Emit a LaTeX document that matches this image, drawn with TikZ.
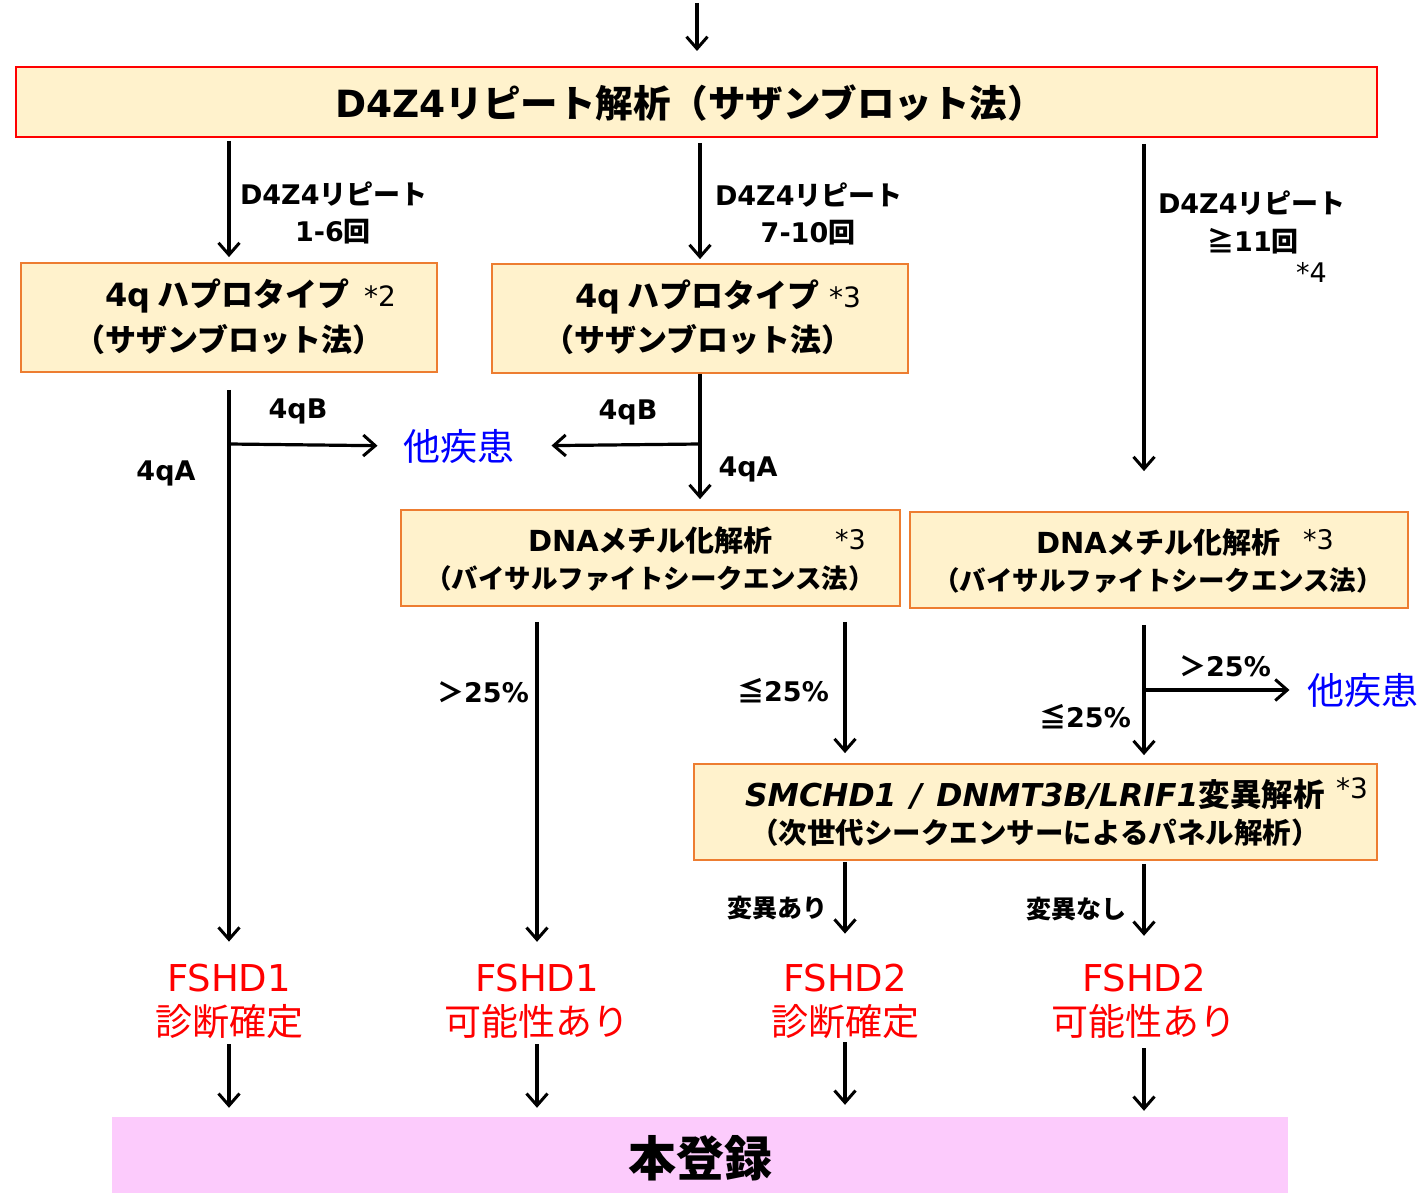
\documentclass[tikz,border=0pt]{standalone}
\usepackage{fontspec}
\setmainfont{Noto Sans CJK JP}
\newfontfamily\latn{DejaVu Sans}
\usetikzlibrary{arrows.meta}
\definecolor{boxfill}{HTML}{FFF2CC}
\definecolor{boxline}{HTML}{ED7D31}
\definecolor{mainline}{HTML}{FF0000}
\definecolor{pinkfill}{HTML}{FCCBFC}
\definecolor{bluetxt}{HTML}{0000FF}
\definecolor{redtxt}{HTML}{FF0000}
\newcommand\fsz[1]{\fontsize{#1}{#1}\selectfont}
\newcommand\fszb[2]{\fontsize{#1}{#2}\selectfont}
\begin{document}
\begin{tikzpicture}[x=1pt,y=-1pt,
  arr/.style={line width=3.2pt,-{Straight Barb[length=12pt,width=21pt,line width=3pt]}},
  box/.style={draw=boxline,line width=1.8pt,fill=boxfill,inner sep=0pt},
  txt/.style={inner sep=0pt,outer sep=0pt},
  bt/.style={txt,font=\bfseries},
  st/.style={txt,font=\latn\fsz{28},anchor=west},
  redl/.style={txt,text=redtxt,align=center,font=\fszb{37}{44}},
  other/.style={txt,text=bluetxt,font=\fsz{37}},
]
\useasboundingbox (0,0) rectangle (1424,1193);

% boxes
\node[box,draw=mainline,line width=2pt,minimum width=1361pt,minimum height=70pt] (main) at (696.5,102) {};
\node[bt,font=\bfseries\fsz{37.5}] (maint) at (690,103) {{\latn D4Z4}リピート解析（サザンブロット法）};

\node[box,minimum width=416pt,minimum height=109pt] (q1) at (229,317.5) {};
\node[bt,font=\bfseries\fsz{32},anchor=west] (q1a) at (105,296) {{\latn 4q} ハプロタイプ};
\node[st] (q1s) at (364,296) {*2};
\node[bt,font=\bfseries\fsz{31}] (q1b) at (229,340) {（サザンブロット法）};

\node[box,minimum width=416pt,minimum height=109pt] (q2) at (700,318.5) {};
\node[bt,font=\bfseries\fsz{32},anchor=west] (q2a) at (575,297) {{\latn 4q} ハプロタイプ};
\node[st] (q2s) at (829,297) {*3};
\node[bt,font=\bfseries\fsz{31}] (q2b) at (698,340) {（サザンブロット法）};

\node[box,minimum width=499pt,minimum height=96pt] (dm) at (650.5,558) {};
\node[bt,font=\bfseries\fsz{29}] (dma) at (528,540) [anchor=west] {{\latn DNA}メチル化解析};
\node[st,font=\latn\fsz{27}] (dms) at (835,540) {*3};
\node[bt,font=\bfseries\fsz{26.5}] (dmb) at (650,578) {（バイサルファイトシークエンス法）};

\node[box,minimum width=498pt,minimum height=96pt] (dr) at (1159,560) {};
\node[bt,font=\bfseries\fsz{29},anchor=west] (dra) at (1036,542) {{\latn DNA}メチル化解析};
\node[st,font=\latn\fsz{27}] (drs) at (1303,540) {*3};
\node[bt,font=\bfseries\fsz{26.5}] (drb) at (1158,580) {（バイサルファイトシークエンス法）};

\node[box,minimum width=683pt,minimum height=96pt] (smc) at (1035.5,812) {};
\node[bt,font=\bfseries\fsz{31.5},anchor=west] (smca) at (745,795) {{\latn\itshape SMCHD1\hspace{0.45em}/\hspace{0.45em}DNMT3B/LRIF1}変異解析};
\node[st] (smcs) at (1336,788) {*3};
\node[bt,font=\bfseries\fsz{28.5}] (smcb) at (1035,833) {（次世代シークエンサーによるパネル解析）};

\node[fill=pinkfill,inner sep=0pt,minimum width=1176pt,minimum height=76pt] (reg) at (700,1155) {};
\node[bt,font=\bfseries\fsz{48}] (regt) at (700,1158) {本登録};

% result labels
\node[redl] (f1) at (229,1001) {{\latn FSHD1}\\診断確定};
\node[redl] (f2) at (537,1001) {{\latn FSHD1}\\可能性あり};
\node[redl] (f3) at (845,1001) {{\latn FSHD2}\\診断確定};
\node[redl] (f4) at (1144,1001) {{\latn FSHD2}\\可能性あり};

\node[other] (o1) at (459,446) {他疾患};
\node[other] (o2) at (1363,690) {他疾患};

% edge labels
\node[bt,font=\bfseries\fsz{27},anchor=west] (l1a) at (240,194) {{\latn D4Z4}リピート};
\node[bt,font=\bfseries\fsz{27}] (l1b) at (333,232) {{\latn 1-6}回};
\node[bt,font=\bfseries\fsz{27},anchor=west] (l2a) at (715,195) {{\latn D4Z4}リピート};
\node[bt,font=\bfseries\fsz{27}] (l2b) at (808,233) {{\latn 7-10}回};
\node[bt,font=\bfseries\fsz{27},anchor=west] (l3a) at (1158,203) {{\latn D4Z4}リピート};
\node[bt,font=\bfseries\fsz{27}] (l3b) at (1253,241) {≧{\latn 11}回};
\node[st,font=\latn\fsz{27}] (l3s) at (1296,272) {*4};

\node[bt,font=\bfseries\latn\fsz{27}] (b1l) at (298,411) {4qB};
\node[bt,font=\bfseries\latn\fsz{27}] (a1l) at (166,473) {4qA};
\node[bt,font=\bfseries\latn\fsz{27}] (b2l) at (628,412) {4qB};
\node[bt,font=\bfseries\latn\fsz{27}] (a2l) at (748,469) {4qA};

\node[bt,font=\bfseries\fsz{27}] (p1) at (483,692) {＞{\latn 25\%}};
\node[bt,font=\bfseries\fsz{27}] (p2) at (783,691) {≦{\latn 25\%}};
\node[bt,font=\bfseries\fsz{27}] (p3) at (1225,666) {＞{\latn 25\%}};
\node[bt,font=\bfseries\fsz{27}] (p4) at (1085,717) {≦{\latn 25\%}};

\node[bt,font=\bfseries\fsz{25}] (m1) at (777,908) {変異あり};
\node[bt,font=\bfseries\fsz{25}] (m2) at (1076,909) {変異なし};

% connectors
\coordinate (top) at (697,3);
\draw[arr,shorten >=15pt] (top) -- (main.north -| top);

\draw[arr,shorten <=3pt,shorten >=5pt] (main.south -| q1.north) -- (q1.north);
\draw[arr,shorten <=5pt,shorten >=4pt] (main.south -| q2.north) -- (q2.north);
\draw[arr,shorten <=6pt,shorten >=40pt] (main.south -| f4) -- (dr.north -| f4);

\coordinate (b1) at (229,444);
\coordinate (b2) at (700,444);
\draw[arr,shorten <=17pt,shorten >=22pt] (q1.south) -- (f1.north);
\draw[arr,shorten >=26pt] (b1) -- (o1.west);
\draw[arr,shorten >=10pt] (q2.south) -- (dm.north -| q2.south);
\draw[arr,shorten >=37pt] (b2) -- (o1.east);

\draw[arr,shorten <=15pt,shorten >=22pt] (dm.south -| f2) -- (f2.north);
\draw[arr,shorten <=15pt,shorten >=10pt] (dm.south -| f3) -- (smc.north -| f3);
\draw[arr,shorten <=16pt,shorten >=8pt] (dr.south -| f4) -- (smc.north -| f4);
\coordinate (b3) at (1144,690);
\draw[arr,shorten >=18pt] (b3) -- (o2.west);

\draw[arr,shorten <=1pt,shorten >=30pt] (smc.south -| f3) -- (f3.north);
\draw[arr,shorten <=3pt,shorten >=28pt] (smc.south -| f4) -- (f4.north);

\draw[arr,shorten <=6pt,shorten >=9pt] (f1.south) -- (reg.north -| f1);
\draw[arr,shorten <=6pt,shorten >=9pt] (f2.south) -- (reg.north -| f2);
\draw[arr,shorten <=4pt,shorten >=12pt] (f3.south) -- (reg.north -| f3);
\draw[arr,shorten <=10pt,shorten >=6pt] (f4.south) -- (reg.north -| f4);
\end{tikzpicture}
\end{document}
